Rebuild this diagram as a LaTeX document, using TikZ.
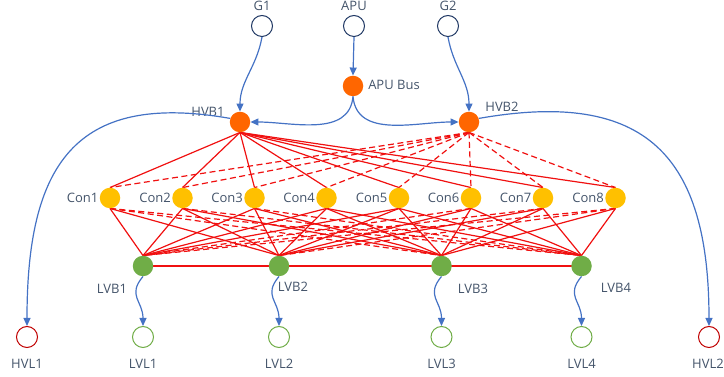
\documentclass[tikz,border=0pt]{standalone}
\usepackage{fontspec}
\setmainfont{Open Sans}
\usetikzlibrary{arrows.meta,backgrounds}
\definecolor{txt}{RGB}{68,84,106}
\definecolor{bl}{RGB}{68,114,196}
\definecolor{rd}{RGB}{240,16,16}
\definecolor{orng}{RGB}{255,102,0}
\definecolor{yel}{RGB}{255,192,0}
\definecolor{grn}{RGB}{112,173,71}
\definecolor{navy}{RGB}{32,56,100}
\definecolor{dred}{RGB}{192,0,0}
\begin{document}
\begin{tikzpicture}[x=1pt,y=1pt,
  lbl/.style={text=txt,font=\fontsize{13}{15}\selectfont,inner sep=0pt},
  ring/.style={circle,draw=#1,line width=1pt,fill=white,minimum size=21pt,inner sep=0pt},
  dot/.style={circle,fill=#1,minimum size=20.5pt,inner sep=0pt},
  flow/.style={draw=bl,line width=1.2pt,-{Triangle[length=8pt,width=7pt,fill=bl]}},
  sl/.style={draw=rd,line width=1.2pt},
  dl/.style={draw=rd,line width=1.2pt,dash pattern=on 6pt off 3.5pt}]
\useasboundingbox (0,0) rectangle (724,377);
% top sources
\node[ring=navy] (G1) at (262,351) {};
\node[ring=navy] (APU) at (354,351) {};
\node[ring=navy] (G2) at (448,351) {};
\node[lbl] (tG1) at (262,371) {G1};
\node[lbl] (tAPU) at (354,371) {APU};
\node[lbl] (tG2) at (448,371) {G2};
% buses
\node[dot=orng] (APUB) at (353,291) {};
\node[lbl] (tAPUB) at (394,292) {APU Bus};
\node[dot=orng] (HVB1) at (240,255) {};
\node[dot=orng] (HVB2) at (469,255) {};
\node[lbl] (tHVB1) at (208,265) {HVB1};
\node[lbl] (tHVB2) at (502,270) {HVB2};
% converters
\foreach \i/\cx in {1/110,2/182.5,3/254.5,4/326.5,5/399,6/471,7/543,8/615.5} {
  \node[dot=yel] (Con\i) at (\cx,179) {};
  \node[lbl,anchor=east] (tCon\i) at ([xshift=-1pt]Con\i.west) {Con\i};
}
% low voltage buses
\foreach \j/\lx in {1/143,2/279,3/441.5,4/581.5} {
  \node[dot=grn] (LVB\j) at (\lx,111) {};
  \node[ring=grn] (LVL\j) at (\lx,40) {};
  \node[lbl] (tLVL\j) at (\lx,13) {LVL\j};
}
\node[lbl] (tLVB1) at (112,88) {LVB1};
\node[lbl] (tLVB2) at (293,90) {LVB2};
\node[lbl] (tLVB3) at (473,88) {LVB3};
\node[lbl] (tLVB4) at (616,89) {LVB4};
\node[ring=dred] (HVL1) at (27,40) {};
\node[ring=dred] (HVL2) at (709,40) {};
\node[lbl] (tHVL1) at (27,13) {HVL1};
\node[lbl] (tHVL2) at (708,13) {HVL2};
% red mesh
\begin{scope}[on background layer]
\draw[sl] (LVB1.center) -- (LVB2.center) -- (LVB3.center) -- (LVB4.center);
\foreach \i/\cx in {1/110,2/182.5,3/254.5,4/326.5,5/399,6/471,7/543,8/615.5} {
  \draw[sl] (HVB1.south) -- (Con\i.north);
  \draw[dl] (HVB2.south) -- (Con\i.north);
  \foreach \j/\lx in {1/143,2/279,3/441.5,4/581.5} {
    \pgfmathtruncatemacro{\far}{abs(\cx-\lx)>300 ? 1 : 0}
    \ifnum\far=1
      \draw[dl] (Con\i.south) -- (LVB\j.north);
    \else
      \draw[sl] (Con\i.south) -- (LVB\j.north);
    \fi
  }
}
\end{scope}
% blue flows
\draw[flow] (G1.south) to[out=-100,in=90] (HVB1.north);
\draw[flow] (APU.south) -- (APUB.north);
\draw[flow] (G2.south) to[out=-80,in=90] (HVB2.north);
\draw[flow] (APUB.south) to[out=-95,in=0] (HVB1.east);
\draw[flow] (APUB.south) to[out=-85,in=180] (HVB2.west);
\draw[flow] (HVB1.160) to[out=170,in=90,looseness=1.4] (HVL1.north);
\draw[flow] (HVB2.20) to[out=10,in=90,looseness=1.4] (HVL2.north);
\foreach \j in {1,2,3,4} {
  \draw[flow] (LVB\j.south) to[out=-130,in=90,looseness=1.3] (LVL\j.north);
}
\end{tikzpicture}
\end{document}
